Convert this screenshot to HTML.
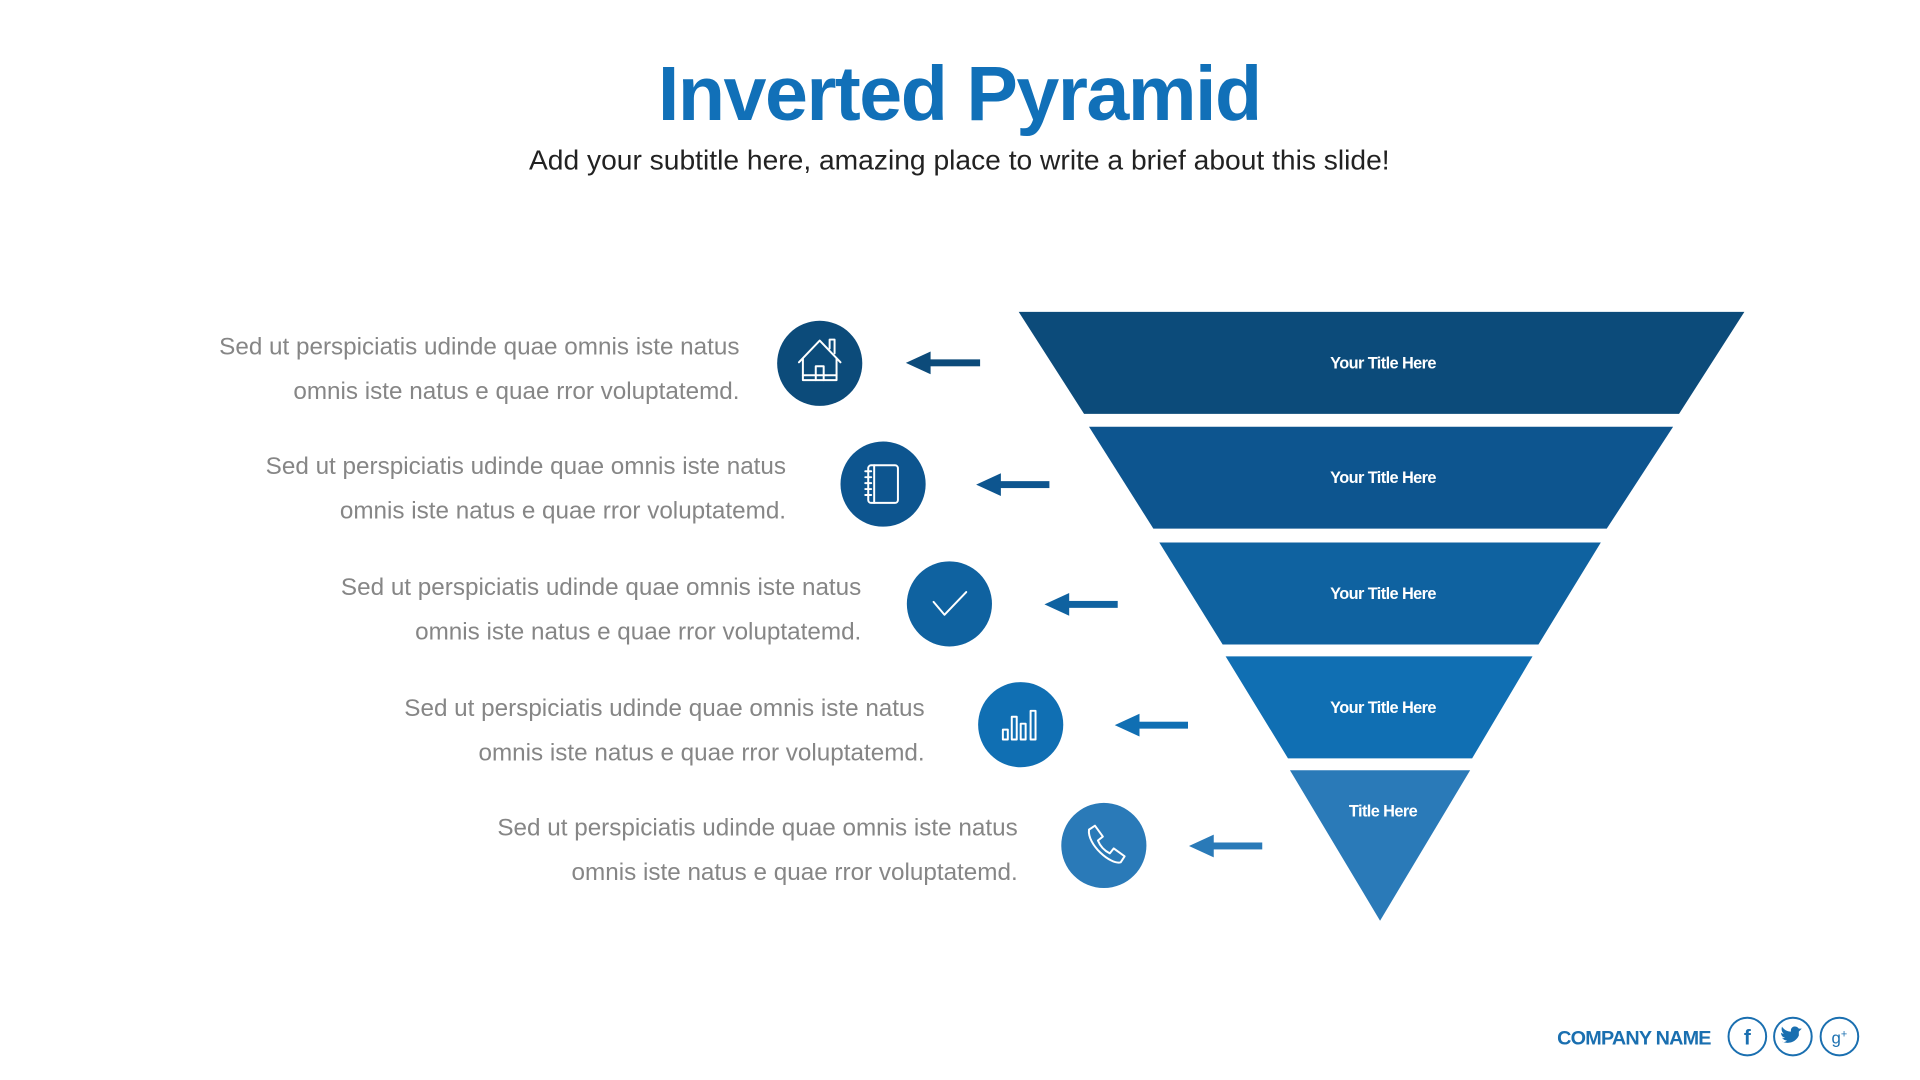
<!DOCTYPE html>
<html><head><meta charset="utf-8"><style>
html,body{margin:0;padding:0;background:#fff;}
svg{display:block;}
text{font-family:"Liberation Sans",sans-serif;}
</style></head><body>
<svg width="1920" height="1080" viewBox="0 0 1920 1080" xmlns="http://www.w3.org/2000/svg">
<g transform="scale(0.99)">
<text x="969" y="121" text-anchor="middle" font-size="78" font-weight="bold" fill="#1170b8" letter-spacing="-1.5">Inverted Pyramid</text>
<text x="969" y="171" text-anchor="middle" font-size="28.5" fill="#222">Add your subtitle here, amazing place to write a brief about this slide!</text>

<polygon points="1029,315 1762,315 1696,418 1095,418" fill="#0c4b7a"/>
<polygon points="1100,431 1690,431 1623,534 1165,534" fill="#0d558f"/>
<polygon points="1171,548 1617,548 1554,651 1235,651" fill="#0f62a0"/>
<polygon points="1238,663 1548,663 1487,766 1301,766" fill="#106fb3"/>
<polygon points="1303,778 1485,778 1394,930" fill="#2a7ab8"/>
<g font-size="16.5" font-weight="bold" fill="#fff" text-anchor="middle" letter-spacing="-0.6">
<text x="1397" y="372">Your Title Here</text>
<text x="1397" y="488">Your Title Here</text>
<text x="1397" y="605">Your Title Here</text>
<text x="1397" y="720">Your Title Here</text>
<text x="1397" y="825">Title Here</text>
</g>

<g>
<g fill="#0c4b7a"><rect x="935" y="363" width="55" height="7"/><polygon points="915,366.5 940,355 940,378"/></g>
<g fill="#0d558f"><rect x="1006" y="486" width="54" height="7"/><polygon points="986,489.5 1011,478 1011,501"/></g>
<g fill="#0f62a0"><rect x="1075" y="607" width="54" height="7"/><polygon points="1055,610.5 1080,599 1080,622"/></g>
<g fill="#106fb3"><rect x="1146" y="729" width="54" height="7"/><polygon points="1126,732.5 1151,721 1151,744"/></g>
<g fill="#2a7ab8"><rect x="1221" y="851" width="54" height="7"/><polygon points="1201,854.5 1226,843 1226,866"/></g>
</g>

<circle cx="828" cy="367" r="43" fill="#0c4b7a"/>
<circle cx="892" cy="489" r="43" fill="#0d558f"/>
<circle cx="959" cy="610" r="43" fill="#0f62a0"/>
<circle cx="1031" cy="732" r="43" fill="#106fb3"/>
<circle cx="1115" cy="854" r="43" fill="#2a7ab8"/>

<g fill="none" stroke="#fff" stroke-width="2" stroke-linejoin="round" stroke-linecap="round">
<path d="M807,366 L828,344 L849,366"/>
<path d="M811,362 V384 H845 V362"/>
<path d="M838,352 V343 H843 V357"/>
<path d="M824,384 V370 H832 V384"/>
<path d="M811,379 H845"/>
<rect x="877" y="470" width="30" height="38" rx="3"/>
<path d="M883,470 V508"/>
<path d="M874,476 H880 M874,482 H880 M874,488 H880 M874,494 H880 M874,500 H880"/>
<path d="M943,608 L954,621 L976,598"/>
<rect x="1013" y="737" width="5" height="10"/>
<rect x="1022" y="724" width="5" height="23"/>
<rect x="1031" y="731" width="5" height="16"/>
<rect x="1041" y="718" width="5" height="29"/>
<path d="M1100,838 l6,-4 l8,11 l-5,4 c2,5 6,10 12,13 l4,-5 l11,8 l-4,6 c-10,3 -34,-18 -32,-33 z"/>
</g>

<g font-size="24.5" fill="#868686" text-anchor="end">
<text x="747" y="358">Sed ut perspiciatis udinde quae omnis iste natus</text>
<text x="747" y="403">omnis iste natus e quae rror voluptatemd.</text>
<text x="794" y="479">Sed ut perspiciatis udinde quae omnis iste natus</text>
<text x="794" y="524">omnis iste natus e quae rror voluptatemd.</text>
<text x="870" y="601">Sed ut perspiciatis udinde quae omnis iste natus</text>
<text x="870" y="646">omnis iste natus e quae rror voluptatemd.</text>
<text x="934" y="723">Sed ut perspiciatis udinde quae omnis iste natus</text>
<text x="934" y="768">omnis iste natus e quae rror voluptatemd.</text>
<text x="1028" y="844">Sed ut perspiciatis udinde quae omnis iste natus</text>
<text x="1028" y="889">omnis iste natus e quae rror voluptatemd.</text>
</g>

<text x="1728" y="1055" text-anchor="end" font-size="20" font-weight="bold" fill="#1a6fb0" letter-spacing="-0.8">COMPANY NAME</text>
<g fill="none" stroke="#1a6fb0" stroke-width="2">
<circle cx="1765" cy="1047" r="19"/>
<circle cx="1811" cy="1047" r="19"/>
<circle cx="1858" cy="1047" r="19"/>
</g>
<text x="1765" y="1055" text-anchor="middle" font-size="21" font-weight="bold" fill="#1a6fb0">f</text>
<path d="M1800,1052 c6,3 14,1 17,-6 l0,-4 l3,-3 l-3,0 c-2,-3 -7,-3 -8,1 l0,2 c-4,0 -7,-2 -9,-5 c-1,3 0,6 2,7 c-1,0 -2,0 -3,-1 c0,3 2,5 4,5 c-1,1 -2,1 -3,0 c1,2 3,3 5,3 c-2,2 -4,2 -5,1 z" fill="#1a6fb0"/>
<text x="1858" y="1054" text-anchor="middle" font-size="17" fill="#1a6fb0" font-family="Liberation Serif, serif">g<tspan font-size="11" dy="-6">+</tspan></text>
</g>
</svg>
</body></html>
